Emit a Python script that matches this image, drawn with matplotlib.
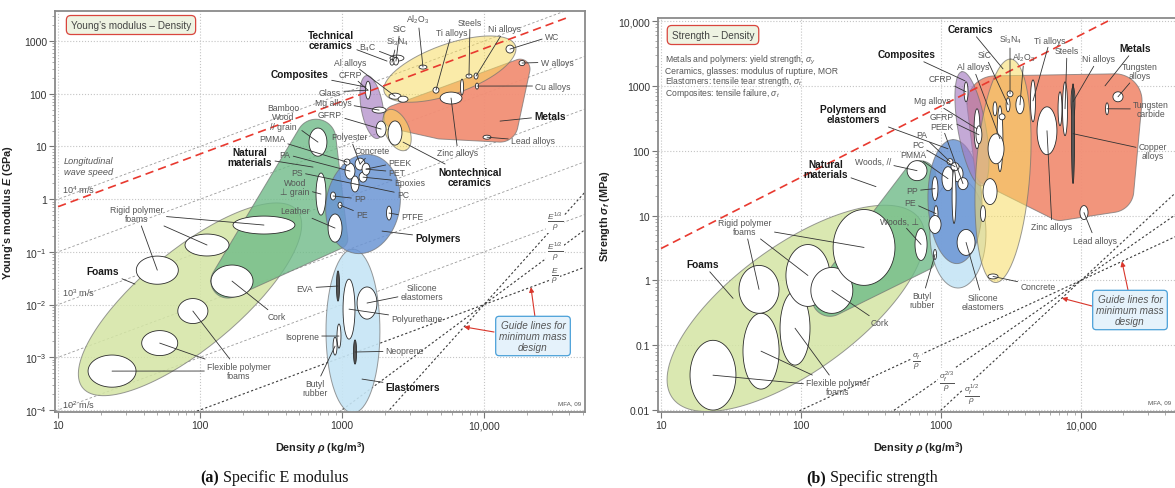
import numpy as np
import matplotlib.pyplot as plt
import matplotlib.ticker as mticker
import matplotlib.transforms as mtransforms

plt.rcParams['font.family'] = ['Liberation Sans', 'DejaVu Sans']
plt.rcParams['mathtext.fontset'] = 'custom'
plt.rcParams['mathtext.rm'] = 'Liberation Sans'
plt.rcParams['mathtext.it'] = 'Liberation Sans:italic'
plt.rcParams['mathtext.bf'] = 'Liberation Sans:bold'
plt.rcParams['mathtext.bfit'] = 'Liberation Sans:bold:italic'

W, H = 1175, 489

x_ticks = [10, 100, 1000, 10000]
x_tick_labels = ['10', '100', '1000', '10,000']

# ---------------------------------------------------------------
# (a) Young's modulus - density
# ---------------------------------------------------------------
a_yticks = [1e-4, 1e-3, 1e-2, 1e-1, 1, 10, 100, 1000]
a_ytick_labels = ['10$^{-4}$', '10$^{-3}$', '10$^{-2}$', '10$^{-1}$', '1', '10', '100', '1000']

# ellipse envelopes: centre (rho, E), semi axes (decades), tilt (deg)
a_env_names = ['foams', 'elastomers', 'polymers', 'composites', 'tech_ceramics', 'nontech_ceramics']
a_env_rho = [85, 1194, 1406, 1626, 5750, 2440]
a_env_E = [0.0126, 0.00314, 0.81, 56, 294, 20.5]
a_env_a = [0.98, 0.577, 0.352, 0.225, 0.49, 0.155]
a_env_b = [0.345, 0.19, 0.26, 0.077, 0.176, 0.085]
a_env_ang = [39.6, 90, 80, 100, 19.6, -66]

# hull envelopes: anchor circles (rho, E, radius in decades)
a_natural_rho = [656, 157, 935]
a_natural_E = [13.8, 0.028, 0.175]
a_natural_r = [0.14, 0.12, 0.07]
a_metals_rho = [2399, 17950, 12970, 4900]
a_metals_E = [36.1, 294, 26.6, 21.4]
a_metals_r = [0.085, 0.07, 0.127, 0.07]

a_order = ['foams', 'natural', 'elastomers', 'polymers', 'metals', 'composites',
           'tech_ceramics', 'nontech_ceramics']

# material bubbles: centre, half range in decades of rho and of E
a_bub_names = ['rpf1', 'rpf2', 'rpf3', 'cork', 'ff1', 'ff2', 'ff3', 'bamboo', 'wood_perp', 'leather',
               'pp', 'pe', 'ptfe', 'b1', 'b2', 'b3', 'b4', 'b5', 'b6', 'eva', 'pu', 'silicone',
               'isoprene', 'butyl', 'neoprene', 'cfrp', 'gfrp', 'mg', 'concrete', 'b4c', 'sic',
               'si3n4', 'al2o3', 'ti', 'steel', 'ni', 'cu', 'w', 'wc', 'zinc', 'steel2', 'lead',
               'al1', 'al2']
a_bub_rho = [50, 112, 282, 168, 89, 52, 24, 677, 711, 893,
             865, 968, 2144, 1138, 1340, 1235, 1406, 1084, 1476, 937, 1120, 1500,
             952, 893, 1235, 1524, 1884, 1824, 2361, 2438, 2399,
             2249, 3717, 4590, 7840, 8790, 8930, 18530, 15240, 5860, 7000, 10500,
             2361, 2690]
a_bub_E = [0.045, 0.135, 0.323, 0.0279, 0.00754, 0.00186, 0.000547, 12.1, 1.25, 0.283,
           1.15, 0.77, 0.545, 3.41, 4.64, 1.94, 2.62, 5.06, 3.72, 0.0225, 0.0082, 0.0107,
           0.00253, 0.00163, 0.00126, 117, 21.4, 49, 18, 475, 417,
           398, 321, 117, 217, 217, 140, 383, 705, 83, 134, 15,
           90, 79]
a_bub_drho = [0.148, 0.155, 0.218, 0.148, 0.106, 0.127, 0.169, 0.063, 0.035, 0.049,
              0.018, 0.014, 0.018, 0.035, 0.035, 0.028, 0.028, 0.021, 0.028, 0.011, 0.042, 0.070,
              0.014, 0.014, 0.011, 0.018, 0.035, 0.049, 0.049, 0.049, 0.018,
              0.014, 0.028, 0.021, 0.021, 0.014, 0.011, 0.021, 0.028, 0.077, 0.011, 0.028,
              0.042, 0.035]
a_bub_dE = [0.267, 0.208, 0.170, 0.305, 0.237, 0.237, 0.305, 0.267, 0.399, 0.267,
            0.075, 0.057, 0.132, 0.151, 0.113, 0.151, 0.094, 0.057, 0.113, 0.286, 0.569, 0.305,
            0.229, 0.170, 0.229, 0.170, 0.151, 0.057, 0.229, 0.057, 0.075,
            0.057, 0.038, 0.057, 0.038, 0.057, 0.057, 0.049, 0.075, 0.113, 0.151, 0.038,
            0.057, 0.057]
a_dark = ['eva', 'neoprene']

# wave speed lines E = E10 * rho / 10, and the red reference line
a_wave_E10 = [1, 0.1, 0.01, 0.001, 0.0001]
a_red_rho = [10, 40000]
a_red_E = [0.72, 2880]
# guide lines through (1e4, 1e-2)
a_guide_slope = [3, 2, 1]
a_guide_pivot = (1e4, 1e-2)
a_arrow_rho = [7230, 21400]
a_arrow_line = [0, 2]

a_fam_text = ['Technical\nceramics', 'Composites', 'Natural\nmaterials', 'Foams', 'Polymers',
              'Elastomers', 'Metals', 'Nontechnical\nceramics']
a_fam_px = [(331, 41), (300, 75), (250, 158), (103, 272), (438, 239), (413, 388), (550, 117), (470, 178)]
a_fam_to_rho = [2075, 1476, 625, 34.8, 1914, 1383, 12970, 2690]
a_fam_to_E = [417, 134, 4.06, 0.0245, 0.248, 3.86e-4, 30.3, 12.1]

a_lab_text = ['Al$_2$O$_3$', 'SiC', 'Si$_3$N$_4$', 'B$_4$C', 'Ti alloys', 'Steels', 'Ni alloys', 'WC',
              'W alloys', 'Cu alloys', 'Lead alloys', 'Zinc alloys', 'Al alloys', 'CFRP', 'Glass',
              'Mg alloys', 'GFRP', 'Polyester', 'Concrete', 'PEEK', 'PET', 'Epoxies', 'PC', 'PP', 'PE',
              'PTFE', 'Bamboo\nWood\n// grain', 'PMMA', 'PA', 'PS', 'Wood\n⊥ grain', 'Leather',
              'Rigid polymer\nfoams', 'Cork', 'Flexible polymer\nfoams', 'EVA', 'Silicone\nelastomers',
              'Polyurethane', 'Isoprene', 'Neoprene', 'Butyl\nrubber']
a_lab_px = [(418, 20), (400, 30), (397, 42), (368, 48), (452, 33), (470, 23), (505, 30), (552, 37),
            (557, 63), (553, 87), (533, 142), (458, 154), (350, 63), (350, 75), (330, 93),
            (333, 103), (330, 115), (350, 138), (372, 152), (400, 163), (397, 173), (410, 183),
            (403, 195), (360, 200), (362, 215), (412, 218), (283, 118), (272, 140), (285, 155),
            (297, 173), (295, 188), (295, 212), (137, 215), (277, 318), (239, 372), (305, 289),
            (422, 293), (417, 320), (302, 337), (405, 352), (315, 389)]
a_lab_to = ['al2o3', 'sic', 'si3n4', 'b4c', 'ti', 'steel', 'ni', 'wc', 'w', 'cu', 'lead', 'zinc',
            'al1', 'cfrp', 'cfrp', 'mg', 'gfrp', 'b2', 'b2', 'b6', 'b6', 'b4', 'b3', 'pp', 'pe',
            'ptfe', 'bamboo', 'b5', 'b1', 'b3', 'wood_perp', 'leather', ['rpf1', 'rpf2', 'rpf3'],
            'cork', ['ff1', 'ff2', 'ff3'], 'eva', 'silicone', 'pu', 'isoprene', 'neoprene', 'butyl']

# ---------------------------------------------------------------
# (b) Strength - density
# ---------------------------------------------------------------
b_yticks = [0.01, 0.1, 1, 10, 100, 1000, 10000]
b_ytick_labels = ['0.01', '0.1', '1', '10', '100', '1000', '10,000']

b_env_names = ['foams', 'elastomers', 'polymers', 'composites', 'ceramics']
b_env_rho = [92, 1322, 1259, 1664, 2773]
b_env_S = [0.37, 5.3, 16.4, 218, 49]
b_env_a = [1.09, 0.39, 0.443, 0.414, 0.80]
b_env_b = [0.45, 0.20, 0.193, 0.10, 0.193]
b_env_ang = [36, 90, 92, 100, 86]

b_natural_rho = [161, 708, 769]
b_natural_S = [0.53, 39.8, 2.03]
b_natural_r = [0.129, 0.114, 0.071]
b_metals_rho = [2430, 17500, 16600, 7080, 2240]
b_metals_S = [528, 587, 24.3, 15.3, 49]
b_metals_r = [0.2, 0.193, 0.157, 0.121, 0.107]

b_order = ['foams', 'natural', 'elastomers', 'polymers', 'metals', 'composites', 'ceramics']

b_bub_names = ['f1', 'f2', 'f3', 'r1', 'r2', 'cork', 'big', 'wood_par', 'wood_perp', 'pp', 'pe',
               'pw', 'p1', 'p2', 'p3', 'p4', 'p5', 'ptall', 'silicone', 'butyl', 'cfrp', 'mg',
               'gfrp', 'c1', 'c2', 'c3', 'ti', 'c4', 'al_tall', 'c5', 'c6', 'c7', 'c8', 'concrete',
               'zinc', 'steel', 'ni', 'cu', 'm2', 'w', 'wc', 'lead']
b_bub_rho = [23.5, 51.8, 90.6, 50.1, 112, 166, 282, 674, 720, 906, 921,
             906, 1122, 1322, 1435, 1159, 1259, 1239, 1510, 906, 1510, 1808,
             1866, 3112, 3013, 3664, 4540, 2430, 2637, 2472, 2730, 2240, 1995, 2352,
             5715, 7690, 8770, 8770, 7080, 18370, 15350, 10500]
b_bub_S = [0.0345, 0.081, 0.183, 0.727, 1.19, 0.70, 3.22, 49.2, 3.58, 26, 10.7,
           7.28, 37, 44, 31, 67.8, 56.7, 19.6, 3.85, 2.51, 809, 218,
           176, 754, 510, 510, 587, 443, 153, 107, 333, 23.4, 10.7, 1.15,
           203, 443, 568, 183, 443, 678, 443, 11.1]
b_bub_drho = [0.164, 0.129, 0.107, 0.143, 0.157, 0.150, 0.221, 0.071, 0.043, 0.021, 0.014,
              0.043, 0.043, 0.036, 0.036, 0.021, 0.029, 0.014, 0.064, 0.011, 0.014, 0.021,
              0.021, 0.021, 0.014, 0.029, 0.018, 0.014, 0.021, 0.057, 0.021, 0.050, 0.018, 0.036,
              0.071, 0.018, 0.014, 0.011, 0.014, 0.036, 0.011, 0.029]
b_bub_dS = [0.538, 0.585, 0.569, 0.369, 0.477, 0.354, 0.585, 0.154, 0.246, 0.185, 0.123,
            0.138, 0.185, 0.123, 0.092, 0.046, 0.062, 0.415, 0.200, 0.077, 0.154, 0.308,
            0.138, 0.046, 0.108, 0.138, 0.323, 0.108, 0.508, 0.231, 0.046, 0.200, 0.123, 0.038,
            0.369, 0.415, 0.231, 0.769, 0.262, 0.077, 0.092, 0.108]
b_dark = ['cu']

b_red_rho = [10, 15600]
b_red_S = [3.1, 10000]
b_guide_slope = [1, 1.5, 2]
b_guide_pivot = (1e4, 1.0)
b_arrow_rho = [7300, 19600]
b_arrow_line = [2, 0]

b_fam_text = ['Natural\nmaterials', 'Polymers and\nelastomers', 'Composites', 'Ceramics', 'Metals', 'Foams']
b_fam_px = [(826, 170), (853, 115), (907, 55), (970, 30), (1135, 49), (703, 265)]
b_fam_to_rho = [343, 1122, 1484, 2773, 14840, 32.7]
b_fam_to_S = [27.9, 107, 1195, 1828, 1000, 0.528]

b_lab_text = ['Al alloys', 'CFRP', 'SiC', 'Si$_3$N$_4$', 'Al$_2$O$_3$', 'Ti alloys', 'Steels',
              'Ni alloys', 'Tungsten\nalloys', 'Tungsten\ncarbide', 'Copper\nalloys', 'Mg alloys',
              'GFRP', 'PEEK', 'PA', 'PC', 'PMMA', 'PP', 'PE', 'Woods, //', 'Woods, ⊥',
              'Butyl\nrubber', 'Silicone\nelastomers', 'Concrete', 'Zinc alloys', 'Lead alloys',
              'Rigid polymer\nfoams', 'Cork', 'Flexible polymer\nfoams']
b_lab_px = [(973, 68), (940, 80), (985, 56), (1010, 40), (1024, 58), (1050, 41), (1067, 52),
            (1098, 60), (1140, 72), (1151, 110), (1153, 152), (932, 102),
            (942, 118), (942, 127), (922, 136), (918, 146), (913, 155), (912, 192), (910, 203),
            (873, 162), (900, 222), (922, 301), (983, 303), (1038, 287), (1052, 228), (1095, 241),
            (745, 228), (880, 324), (838, 388)]
b_lab_to = ['al_tall', 'cfrp', 'c2', 'c1', 'c3', 'ti', 'steel', 'ni', 'w', 'wc', 'cu', 'mg',
            'gfrp', 'p3', 'p4', 'p5', 'p1', 'pp', 'pe', 'wood_par', 'wood_perp', 'butyl',
            'silicone', 'concrete', 'zinc', 'lead', ['big', 'r2', 'r1'], 'cork', ['f2', 'f3', 'f1']]

# ---------------------------------------------------------------
env_face = {'foams': '#d4e5a4', 'natural': '#6fbb88', 'elastomers': '#c6e5f5',
            'polymers': '#6b95d4', 'composites': '#a57cc0', 'metals': '#f28f75',
            'ceramics': '#f7dc63'}
env_alpha = {'foams': 0.85, 'natural': 0.8, 'elastomers': 0.9, 'polymers': 0.85,
             'composites': 0.65, 'metals': 0.95, 'ceramics': 0.55}
GRAY = '#555555'


def panel_k(ax):
    pos = ax.get_position()
    x0, x1 = np.log10(ax.get_xlim())
    y0, y1 = np.log10(ax.get_ylim())
    return (pos.height * H / (y1 - y0)) / (pos.width * W / (x1 - x0))


def ell_xy(rho, val, a, b, ang, k, n=140):
    t = np.linspace(0, 2 * np.pi, n)
    c, s = np.cos(np.radians(ang)), np.sin(np.radians(ang))
    u = a * np.cos(t) * c - b * np.sin(t) * s
    v = a * np.cos(t) * s + b * np.sin(t) * c
    return rho * 10 ** u, val * 10 ** (v / k)


def hull_xy(rhos, vals, rads, k):
    t = np.linspace(0, 2 * np.pi, 90, endpoint=False)
    pts = []
    for r, v, rr in zip(rhos, vals, rads):
        pts += list(zip(np.log10(r) + rr * np.cos(t), np.log10(v) * k + rr * np.sin(t)))
    pts = sorted(pts)

    def cross(o, a, b):
        return (a[0] - o[0]) * (b[1] - o[1]) - (a[1] - o[1]) * (b[0] - o[0])

    lo, up = [], []
    for p in pts:
        while len(lo) >= 2 and cross(lo[-2], lo[-1], p) <= 0:
            lo.pop()
        lo.append(p)
    for p in reversed(pts):
        while len(up) >= 2 and cross(up[-2], up[-1], p) <= 0:
            up.pop()
        up.append(p)
    h = np.array(lo[:-1] + up[:-1])
    return 10 ** h[:, 0], 10 ** (h[:, 1] / k)


def setup(ax, xlim, ylim, yticks, ylabels):
    ax.set_xscale('log')
    ax.set_yscale('log')
    ax.set_xlim(xlim)
    ax.set_ylim(ylim)
    ax.set_xticks(x_ticks)
    ax.set_xticklabels(x_tick_labels)
    ax.set_yticks(yticks)
    ax.set_yticklabels(ylabels)
    ax.xaxis.set_minor_locator(mticker.LogLocator(base=10, subs=np.arange(2, 10), numticks=100))
    ax.yaxis.set_minor_locator(mticker.LogLocator(base=10, subs=np.arange(2, 10), numticks=100))
    ax.xaxis.set_minor_formatter(mticker.NullFormatter())
    ax.yaxis.set_minor_formatter(mticker.NullFormatter())
    ax.grid(True, which='major', color='#c4c4c4', ls=':', lw=0.8)
    ax.set_axisbelow(True)
    ax.tick_params(which='major', length=4, width=0.8, color='#777', labelsize=7.5,
                   labelcolor='#333', pad=2)
    ax.tick_params(which='minor', length=2, width=0.5, color='#888')
    for sp in ax.spines.values():
        sp.set_color('#8a8a8a')
        sp.set_linewidth(1.3)


def draw_envelopes(ax, order, names, rhos, vals, aa, bb, angs, hulls):
    k = panel_k(ax)
    shapes = {}
    for n, r, v, a, b, g in zip(names, rhos, vals, aa, bb, angs):
        shapes[n] = ell_xy(r, v, a, b, g, k)
    for n, (hr, hv, hrad) in hulls.items():
        shapes[n] = hull_xy(hr, hv, hrad, k)
    for z, n in enumerate(order):
        key = n.split('_')[-1]
        xs, ys = shapes[n]
        ax.fill(xs, ys, fc=env_face[key], alpha=env_alpha[key], ec='none', zorder=2 + z * 0.01)
        ax.plot(np.append(xs, xs[0]), np.append(ys, ys[0]), color='#707070', lw=0.7,
                alpha=0.7, zorder=2 + z * 0.01)


def draw_bubbles(ax, names, rhos, vals, drho, dval, dark):
    t = np.linspace(0, 2 * np.pi, 80)
    centres = {}
    for n, r, v, a, b in zip(names, rhos, vals, drho, dval):
        ax.fill(r * 10 ** (a * np.cos(t)), v * 10 ** (b * np.sin(t)),
                fc='#555555' if n in dark else 'white', ec='#2b2b2b', lw=0.6, zorder=4)
        centres[n] = (r, v)
    return centres


def labels(ax, pxT, texts, pxs, targets, size, weight, color):
    for txt, p, tg in zip(texts, pxs, targets):
        for i, t in enumerate(tg):
            ax.annotate(txt, xy=t, xycoords='data', xytext=p, textcoords=pxT,
                        ha='center', va='center', fontsize=size, fontweight=weight,
                        color=color if i == 0 else 'none', linespacing=1.05,
                        arrowprops=dict(arrowstyle='-', color='#333333', lw=0.6,
                                        shrinkA=0, shrinkB=0), zorder=8)


fig = plt.figure(figsize=(W / 100, H / 100), dpi=100)
pxT = mtransforms.Affine2D().scale(1.0 / W, -1.0 / H).translate(0, 1) + fig.transFigure

ax_a = fig.add_axes([0.0470, 0.1552, 0.4507, 0.8202])
ax_b = fig.add_axes([0.5602, 0.1554, 0.4432, 0.8049])

setup(ax_a, (10 ** 0.98, 10 ** 4.71), (10 ** -4.04, 10 ** 3.57), a_yticks, a_ytick_labels)
setup(ax_b, (10 ** 0.98, 10 ** 4.70), (10 ** -2.03, 10 ** 4.04), b_yticks, b_ytick_labels)

# ---- panel a ----
rho_span = np.array(ax_a.get_xlim())
for e10 in a_wave_E10:
    ax_a.plot(rho_span, e10 * rho_span / 10, color='#9a9a9a', lw=0.6, ls=(0, (3, 2.5)), zorder=1.5)
for s in a_guide_slope:
    ax_a.plot(rho_span, a_guide_pivot[1] * (rho_span / a_guide_pivot[0]) ** s,
              color='#3a3a3a', lw=0.8, ls=(0, (2, 2)), zorder=1.5)

draw_envelopes(ax_a, a_order, a_env_names, a_env_rho, a_env_E, a_env_a, a_env_b, a_env_ang,
               {'natural': (a_natural_rho, a_natural_E, a_natural_r),
                'metals': (a_metals_rho, a_metals_E, a_metals_r)})
ca = draw_bubbles(ax_a, a_bub_names, a_bub_rho, a_bub_E, a_bub_drho, a_bub_dE, a_dark)
ax_a.plot(a_red_rho, a_red_E, color='#e8392f', lw=1.2, ls=(0, (5, 3)), zorder=5)

labels(ax_a, pxT, a_fam_text, a_fam_px, [[(r, v)] for r, v in zip(a_fam_to_rho, a_fam_to_E)],
       7.3, 'bold', '#1a1a1a')
labels(ax_a, pxT, a_lab_text, a_lab_px,
       [[ca[t]] if isinstance(t, str) else [ca[q] for q in t] for t in a_lab_to],
       6.2, 'normal', GRAY)

ax_a.text(131, 26, 'Young’s modulus – Density', transform=pxT, ha='center', va='center',
          fontsize=7.2, color='#444', zorder=9,
          bbox=dict(boxstyle='round,pad=0.45', fc='#eef3e2', ec='#d9453d', lw=0.9))
ax_a.text(64, 167, 'Longitudinal\nwave speed', transform=pxT, ha='left', va='center',
          fontsize=6.6, style='italic', color=GRAY, zorder=9)
for txt, yy in zip(['10$^4$ m/s', '10$^3$ m/s', '10$^2$ m/s'], [190, 293, 405]):
    ax_a.text(62, yy, txt, transform=pxT, ha='left', va='center', fontsize=6.6, color=GRAY, zorder=9)
for txt, yy in zip([r'$\frac{E^{1/3}}{\rho}$', r'$\frac{E^{1/2}}{\rho}$', r'$\frac{E}{\rho}$'],
                   [222, 252, 276]):
    ax_a.text(555, yy, txt, transform=pxT, ha='center', va='center', fontsize=8.5, color=GRAY,
              zorder=9, bbox=dict(fc='white', ec='none', pad=0.5))
ax_a.text(533, 337, 'Guide lines for\nminimum mass\ndesign', transform=pxT, ha='center',
          va='center', fontsize=7.2, style='italic', color=GRAY, zorder=9, linespacing=1.15,
          bbox=dict(boxstyle='round,pad=0.35', fc='#e5f2fb', ec='#4aa0d8', lw=0.9))
for r, li, p in zip(a_arrow_rho, a_arrow_line, [(494, 333), (535, 318)]):
    e = a_guide_pivot[1] * (r / a_guide_pivot[0]) ** a_guide_slope[li]
    ax_a.annotate('', xy=(r, e), xycoords='data', xytext=p, textcoords=pxT, zorder=8,
                  arrowprops=dict(arrowstyle='-|>', color='#d9362b', lw=0.8, mutation_scale=7,
                                  shrinkA=0, shrinkB=0))
ax_a.text(570, 404, 'MFA, 09', transform=pxT, ha='center', va='center', fontsize=4.5, color=GRAY)

ax_a.set_ylabel(r"Young’s modulus $\mathbfit{E}$ (GPa)", fontsize=7.8, fontweight='bold', color='#222')
ax_a.yaxis.set_label_coords(-0.076, 0.5)
ax_a.set_xlabel(r'Density $\mathbfit{\rho}$ (kg/m$^\mathbf{3}$)', fontsize=7.8, fontweight='bold', color='#222')
ax_a.xaxis.set_label_coords(0.5, -0.067)

# ---- panel b ----
rho_span = np.array(ax_b.get_xlim())
for s in b_guide_slope:
    ax_b.plot(rho_span, b_guide_pivot[1] * (rho_span / b_guide_pivot[0]) ** s,
              color='#3a3a3a', lw=0.8, ls=(0, (2, 2)), zorder=1.5)

draw_envelopes(ax_b, b_order, b_env_names, b_env_rho, b_env_S, b_env_a, b_env_b, b_env_ang,
               {'natural': (b_natural_rho, b_natural_S, b_natural_r),
                'metals': (b_metals_rho, b_metals_S, b_metals_r)})
cb = draw_bubbles(ax_b, b_bub_names, b_bub_rho, b_bub_S, b_bub_drho, b_bub_dS, b_dark)
ax_b.plot(b_red_rho, b_red_S, color='#e8392f', lw=1.2, ls=(0, (5, 3)), zorder=5)

labels(ax_b, pxT, b_fam_text, b_fam_px, [[(r, v)] for r, v in zip(b_fam_to_rho, b_fam_to_S)],
       7.3, 'bold', '#1a1a1a')
labels(ax_b, pxT, b_lab_text, b_lab_px,
       [[cb[t]] if isinstance(t, str) else [cb[q] for q in t] for t in b_lab_to],
       6.2, 'normal', GRAY)

ax_b.text(713, 36, 'Strength – Density', transform=pxT, ha='center', va='center',
          fontsize=7.2, color='#444', zorder=9,
          bbox=dict(boxstyle='round,pad=0.45', fc='#eef3e2', ec='#d9453d', lw=0.9))
notes = ['Metals and polymers: yield strength, $\\sigma_y$',
         'Ceramics, glasses: modulus of rupture, MOR',
         'Elastomers: tensile tear strength, $\\sigma_t$',
         'Composites: tensile failure, $\\sigma_t$']
for i, txt in enumerate(notes):
    ax_b.text(665, 60 + 11 * i, txt, transform=pxT, ha='left', va='center', fontsize=6.2,
              color=GRAY, zorder=9)
for txt, (xx, yy) in zip([r'$\frac{\sigma_f}{\rho}$', r'$\frac{\sigma_f^{2/3}}{\rho}$',
                          r'$\frac{\sigma_f^{1/2}}{\rho}$'], [(917, 362), (947, 382), (972, 395)]):
    ax_b.text(xx, yy, txt, transform=pxT, ha='center', va='center', fontsize=8.5, color=GRAY,
              zorder=9, bbox=dict(fc='white', ec='none', pad=0.5))
ax_b.text(1130, 311, 'Guide lines for\nminimum mass\ndesign', transform=pxT, ha='center',
          va='center', fontsize=7.2, style='italic', color=GRAY, zorder=9, linespacing=1.15,
          bbox=dict(boxstyle='round,pad=0.35', fc='#e5f2fb', ec='#4aa0d8', lw=0.9))
for r, li, p in zip(b_arrow_rho, b_arrow_line, [(1092, 307), (1128, 291)]):
    sv = b_guide_pivot[1] * (r / b_guide_pivot[0]) ** b_guide_slope[li]
    ax_b.annotate('', xy=(r, sv), xycoords='data', xytext=p, textcoords=pxT, zorder=8,
                  arrowprops=dict(arrowstyle='-|>', color='#d9362b', lw=0.8, mutation_scale=7,
                                  shrinkA=0, shrinkB=0))
ax_b.text(1160, 403, 'MFA, 09', transform=pxT, ha='center', va='center', fontsize=4.5, color=GRAY)

ax_b.set_ylabel(r'Strength $\mathbfit{\sigma_f}$ (MPa)', fontsize=7.8, fontweight='bold', color='#222')
ax_b.yaxis.set_label_coords(-0.088, 0.5)
ax_b.set_xlabel(r'Density $\mathbfit{\rho}$ (kg/m$^\mathbf{3}$)', fontsize=7.8, fontweight='bold', color='#222')
ax_b.xaxis.set_label_coords(0.5, -0.0686)

# ---- captions ----
for x0, tag, txt in [(200, '(a)', ' Specific E modulus'), (806, '(b)', ' Specific strength')]:
    t1 = fig.text(x0 / W, 1 - 478 / H, tag, family='Liberation Serif', fontsize=11.5,
                  fontweight='bold', ha='left', va='center', color='#111')
    ax_a.annotate(txt, xy=(1, 0), xycoords=t1, va='bottom', ha='left',
                  family='Liberation Serif', fontsize=11.5, color='#111', annotation_clip=False)

fig.savefig('out.png', dpi=100)
